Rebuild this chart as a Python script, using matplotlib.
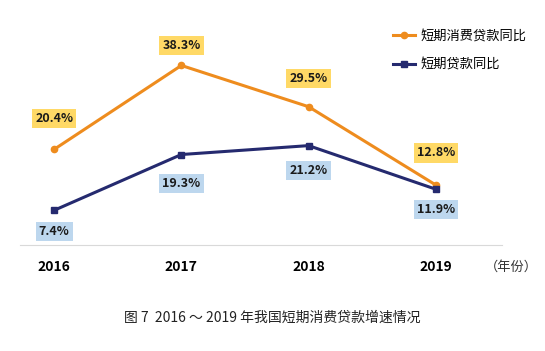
import matplotlib
matplotlib.use('Agg')
import matplotlib.pyplot as plt

plt.rcParams['font.family'] = ['Noto Sans CJK SC', 'DejaVu Sans']

years = [2016, 2017, 2018, 2019]
consumer = [20.4, 38.3, 29.5, 12.8]  # 短期消费贷款同比
short_loan = [7.4, 19.3, 21.2, 11.9]  # 短期贷款同比
consumer_name = '短期消费贷款同比'
short_name = '短期贷款同比'
title = '图 7  2016 ～ 2019 年我国短期消费贷款增速情况'

orange = '#EE8C1E'
navy = '#252A6F'

fig = plt.figure(figsize=(5.45, 3.51), dpi=100)
ax = fig.add_axes([0.037, 0.302, 0.884, 0.601])

ax.plot(years, consumer, color=orange, lw=2.2, marker='o', ms=4.5, label=consumer_name)
ax.plot(years, short_loan, color=navy, lw=2.2, marker='s', ms=4.5, label=short_name)

# value labels (offset in pixels from the point)
off_c = [31, 20, 28, 32]
off_s = [-21, -29, -25, -20]
for x, v, o in zip(years, consumer, off_c):
    ax.annotate(f'{v}%', (x, v), xytext=(0, o), textcoords='offset pixels',
                ha='center', va='center', fontsize=9, fontweight='bold', color='#1a1a1a',
                bbox=dict(boxstyle='square,pad=0.25', fc='#FFD966', ec='none'))
for x, v, o in zip(years, short_loan, off_s):
    ax.annotate(f'{v}%', (x, v), xytext=(0, o), textcoords='offset pixels',
                ha='center', va='center', fontsize=9, fontweight='bold', color='#1a1a1a',
                bbox=dict(boxstyle='square,pad=0.25', fc='#BDD7EE', ec='none'))

ax.set_xlim(2015.733, 2019.52)
ax.set_ylim(0, 45)
ax.set_xticks(years)
ax.set_xticklabels([str(y) for y in years], fontsize=10, fontweight='bold')
ax.tick_params(axis='x', length=0, pad=11)
ax.set_yticks([])
for s in ['top', 'right', 'left']:
    ax.spines[s].set_visible(False)
ax.spines['bottom'].set_color('#d9d9d9')

fig.text(485 / 545, 1 - 267 / 351, '（年份）', fontsize=9.5, ha='left', va='center', color='#333333')

leg = fig.legend(loc='upper left', bbox_to_anchor=(393 / 545, 1 - 30 / 351), frameon=False,
                 fontsize=9.5, handlelength=1.7, labelspacing=1.2, handletextpad=0.4,
                 borderpad=0, borderaxespad=0)

fig.text(0.5, 1 - 318 / 351, title, ha='center', va='center', fontsize=10, color='#222222')

fig.savefig('out.png', dpi=100)
